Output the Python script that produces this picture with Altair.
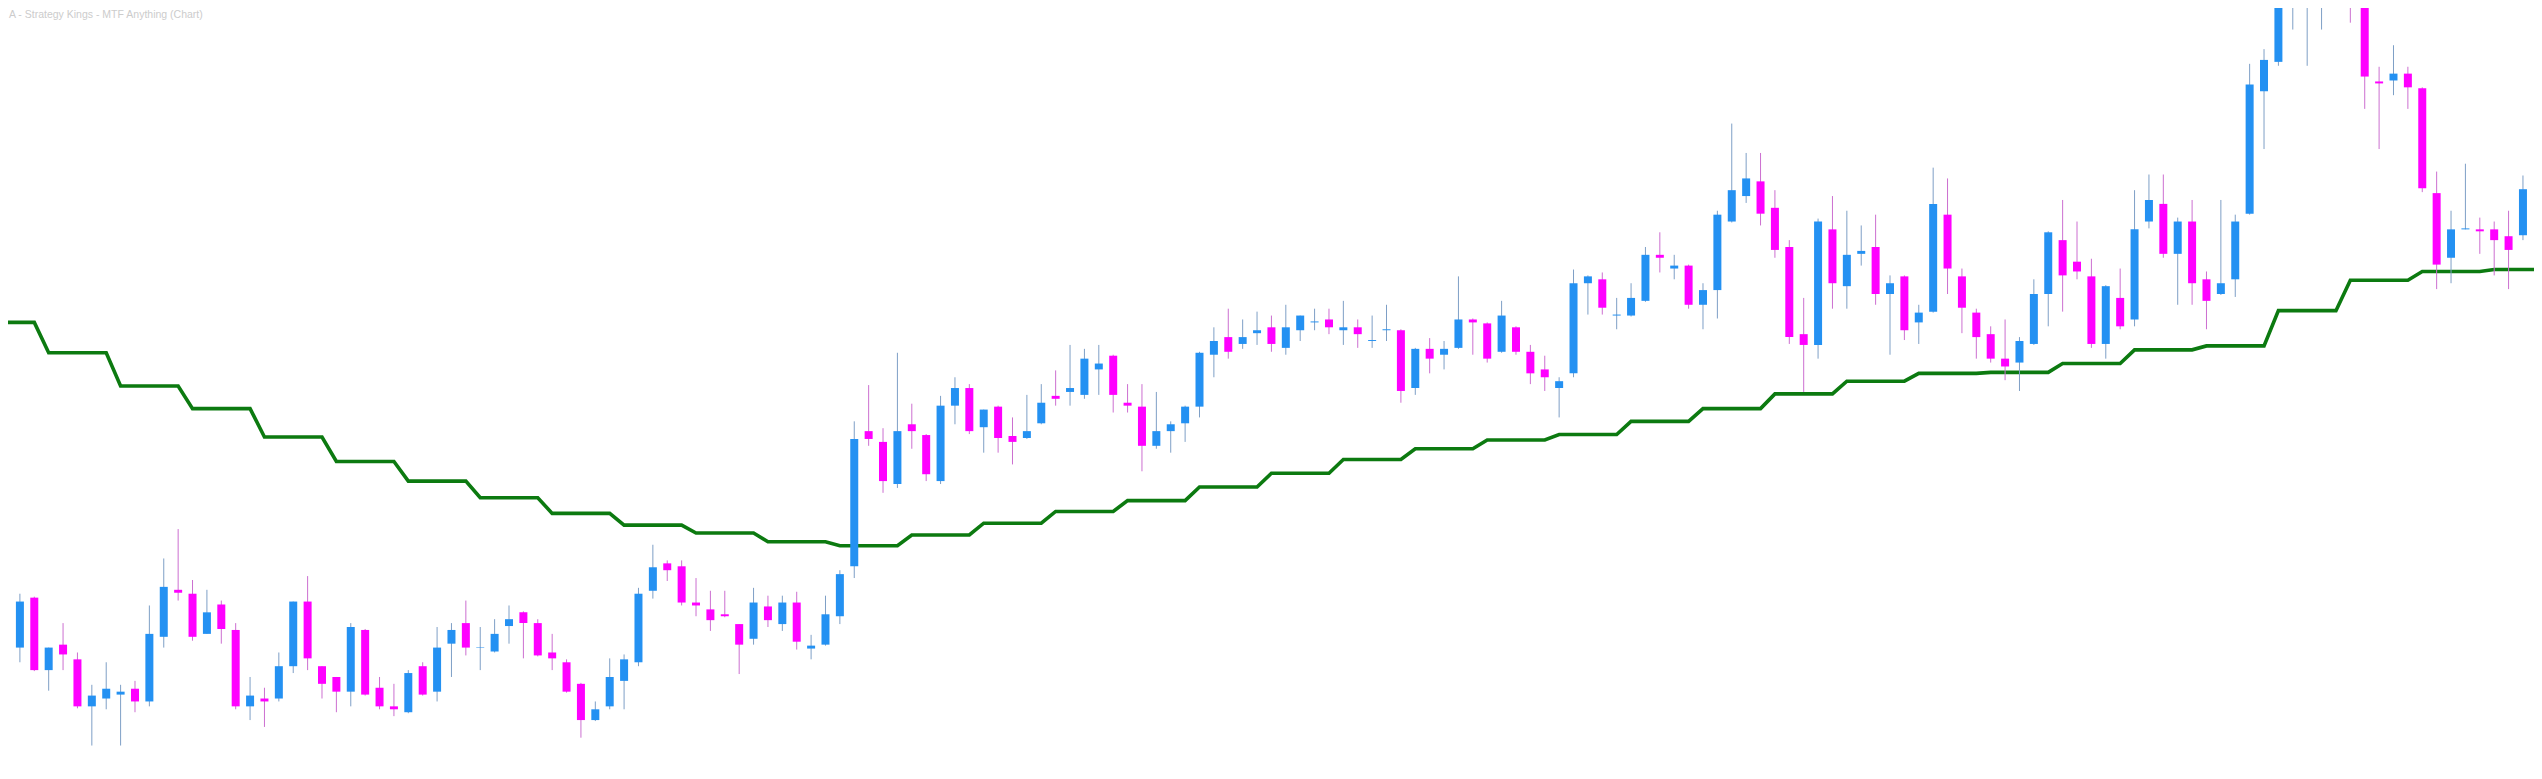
import altair as alt
import pandas as pd

TITLE = "A - Strategy Kings - MTF Anything (Chart)"

opens = [
    126, 177, 103, 129, 114, 66, 74, 78, 84, 71,
    137, 185, 181, 140, 170, 144, 66, 74, 74, 107,
    173, 107, 96, 81, 144, 85, 66, 60, 107, 81,
    130, 151, 126, 122, 148, 162, 151, 121, 111, 89,
    52, 66, 92, 111, 184, 212, 209, 172, 165, 160,
    150, 135, 168, 150, 172, 125, 129, 158, 209, 347,
    336, 293, 354, 343, 296, 373, 391, 351, 372, 342,
    340, 355, 383, 387, 384, 410, 424, 376, 372, 332,
    347, 355, 372, 425, 443, 436, 447, 453, 432, 450,
    458, 461, 450, 453, 439, 450, 450, 391, 431, 425,
    432, 461, 457, 428, 453, 428, 410, 391, 406, 498,
    502, 465, 465, 480, 527, 513, 516, 476, 491, 561,
    587, 602, 575, 535, 446, 435, 553, 495, 528, 535,
    487, 505, 458, 469, 568, 505, 468, 446, 421, 417,
    436, 487, 542, 520, 505, 436, 483, 461, 561, 579,
    528, 561, 502, 487, 502, 569, 694, 724, 795, 820,
    830, 848, 822, 792, 704, 705, 712, 697, 590, 524,
    553, 553, 553, 546, 547,
]

highs = [
    181, 178, 126, 151, 121, 88, 111, 88, 92, 169,
    217, 247, 195, 185, 174, 151, 96, 85, 121, 173,
    199, 107, 96, 151, 145, 96, 89, 103, 111, 147,
    151, 174, 147, 155, 169, 163, 155, 140, 114, 90,
    71, 115, 119, 187, 231, 215, 215, 197, 184, 184,
    150, 187, 179, 179, 183, 139, 179, 205, 357, 394,
    350, 427, 375, 344, 383, 402, 395, 369, 373, 361,
    384, 395, 409, 435, 431, 435, 425, 395, 395, 387,
    357, 373, 428, 453, 472, 461, 469, 465, 476, 465,
    472, 472, 480, 461, 465, 476, 451, 432, 442, 439,
    505, 462, 458, 480, 454, 435, 424, 402, 512, 506,
    509, 483, 498, 535, 550, 527, 517, 498, 572, 661,
    631, 631, 593, 542, 483, 564, 587, 572, 557, 568,
    506, 506, 476, 616, 605, 513, 472, 454, 461, 443,
    502, 551, 583, 561, 523, 496, 513, 593, 609, 609,
    565, 583, 510, 583, 568, 722, 737, 815, 840, 850,
    865, 860, 830, 800, 719, 741, 719, 698, 612, 572,
    620, 565, 561, 572, 608,
]

lows = [
    111, 102, 82, 103, 64, 26, 63, 26, 60, 66,
    126, 174, 133, 140, 130, 63, 52, 45, 71, 100,
    103, 74, 60, 66, 77, 63, 56, 59, 77, 71,
    96, 118, 103, 121, 130, 115, 117, 103, 80, 34,
    51, 63, 63, 107, 176, 194, 169, 158, 143, 157,
    99, 129, 147, 143, 124, 114, 128, 150, 197, 332,
    284, 289, 329, 296, 293, 354, 344, 325, 325, 313,
    339, 354, 373, 373, 380, 384, 366, 366, 306, 329,
    325, 336, 361, 402, 421, 431, 435, 428, 425, 439,
    450, 446, 435, 432, 432, 439, 376, 384, 406, 410,
    431, 425, 417, 427, 425, 395, 388, 361, 402, 466,
    466, 451, 464, 479, 509, 502, 472, 451, 462, 560,
    580, 557, 524, 436, 387, 421, 472, 472, 516, 476,
    425, 440, 436, 468, 487, 447, 421, 417, 399, 388,
    435, 454, 469, 502, 432, 421, 451, 454, 554, 524,
    476, 476, 451, 486, 484, 568, 635, 720, 757, 720,
    757, 790, 764, 676, 635, 690, 676, 591, 492, 498,
    553, 528, 506, 492, 542,
]

closes = [
    173, 103, 126, 119, 66, 77, 84, 81, 71, 140,
    188, 182, 137, 162, 145, 66, 77, 71, 107, 173,
    115, 89, 81, 147, 78, 66, 63, 100, 78, 126,
    144, 126, 126.5, 140, 155, 151, 118, 115, 81, 52,
    63, 96, 114, 181, 208, 205, 172, 169, 154, 158,
    129, 172, 154, 172, 132, 128, 160, 201, 339, 339,
    296, 347, 347, 303, 373, 391, 347, 369, 340, 336,
    347, 376, 380, 391, 421, 416, 384, 373, 332, 347,
    354, 372, 427, 439, 428, 443, 450, 436, 453, 465,
    459, 453, 453, 446, 440, 451, 388, 431, 421, 431,
    461, 458, 421, 465, 428, 406, 402, 398, 498, 505,
    473, 466, 483, 527, 524, 516, 476, 491, 568, 593,
    605, 569, 532, 443, 435, 561, 498, 527, 531, 487,
    498, 450, 468, 579, 513, 473, 443, 421, 413, 439,
    487, 550, 506, 510, 436, 495, 454, 553, 583, 528,
    561, 498, 480, 498, 561, 701, 726, 800, 825, 835,
    850, 820, 790, 709, 702, 712, 698, 595, 517, 553,
    554, 551, 542, 532, 594,
]

# higher-timeframe levels, one per block of 5 chart bars
mtf_levels = [
    458, 427, 393, 370, 341, 316, 296, 279, 263, 251,
    243, 234, 230, 241, 253, 265, 276, 290, 304, 318,
    329, 338, 343.5, 357, 370, 385, 398, 406, 407, 416,
    430, 434, 470, 501, 510, 512,
]
BARS_PER_LEVEL = 5
FIRST_LEVEL_START = -3

BLUE = "#2491F2"
MAGENTA = "#FF00FF"
BLUE_WICK = "#7E9FC6"
MAGENTA_WICK = "#CC6FD0"
GREEN = "#0C7A10"

rows = []
for k in range(len(opens)):
    rows.append({
        "i": k,
        "open": opens[k],
        "high": highs[k],
        "low": lows[k],
        "close": closes[k],
        "dir": "up" if closes[k] >= opens[k] else "down",
    })
df = pd.DataFrame(rows)

line_rows = []
for g, lvl in enumerate(mtf_levels):
    s = FIRST_LEVEL_START + g * BARS_PER_LEVEL
    e = s + BARS_PER_LEVEL - 1
    line_rows.append({"i": s, "v": lvl, "k": 2 * g})
    line_rows.append({"i": e, "v": lvl, "k": 2 * g + 1})
line_df = pd.DataFrame(line_rows)

xs = alt.Scale(domain=[-0.48, 174.42], nice=False, zero=False)
ys = alt.Scale(domain=[0, 779], nice=False, zero=False)
body_col = alt.Color("dir:N", scale=alt.Scale(domain=["up", "down"], range=[BLUE, MAGENTA]), legend=None)
wick_col = alt.Stroke("dir:N", scale=alt.Scale(domain=["up", "down"], range=[BLUE_WICK, MAGENTA_WICK]), legend=None)

line = alt.Chart(line_df).mark_line(color=GREEN, strokeWidth=3.6, clip=True).encode(
    x=alt.X("i:Q", scale=xs, axis=None),
    y=alt.Y("v:Q", scale=ys, axis=None),
    order="k:Q",
)

base = alt.Chart(df).encode(x=alt.X("i:Q", scale=xs, axis=None))
wicks = base.mark_rule(strokeWidth=1, clip=True).encode(
    y=alt.Y("low:Q", scale=ys, axis=None), y2="high:Q", stroke=wick_col
)
bodies = base.mark_bar(size=8, clip=True).encode(
    y=alt.Y("open:Q", scale=ys, axis=None), y2="close:Q", color=body_col
)

title = alt.Chart(pd.DataFrame({"t": [TITLE]})).mark_text(
    align="left", baseline="middle", fontSize=10.5, font="Liberation Sans", color="#cccccc"
).encode(x=alt.value(1), y=alt.value(7), text="t:N")

chart = alt.layer(line, wicks, bodies, title).properties(
    width=2526,
    height=763,
    padding=0,
    autosize=alt.AutoSizeParams(type="fit", contains="padding"),
    background="white",
).configure_view(stroke=None)

chart.save("out.html", embed_options={"renderer": "svg", "actions": False})
